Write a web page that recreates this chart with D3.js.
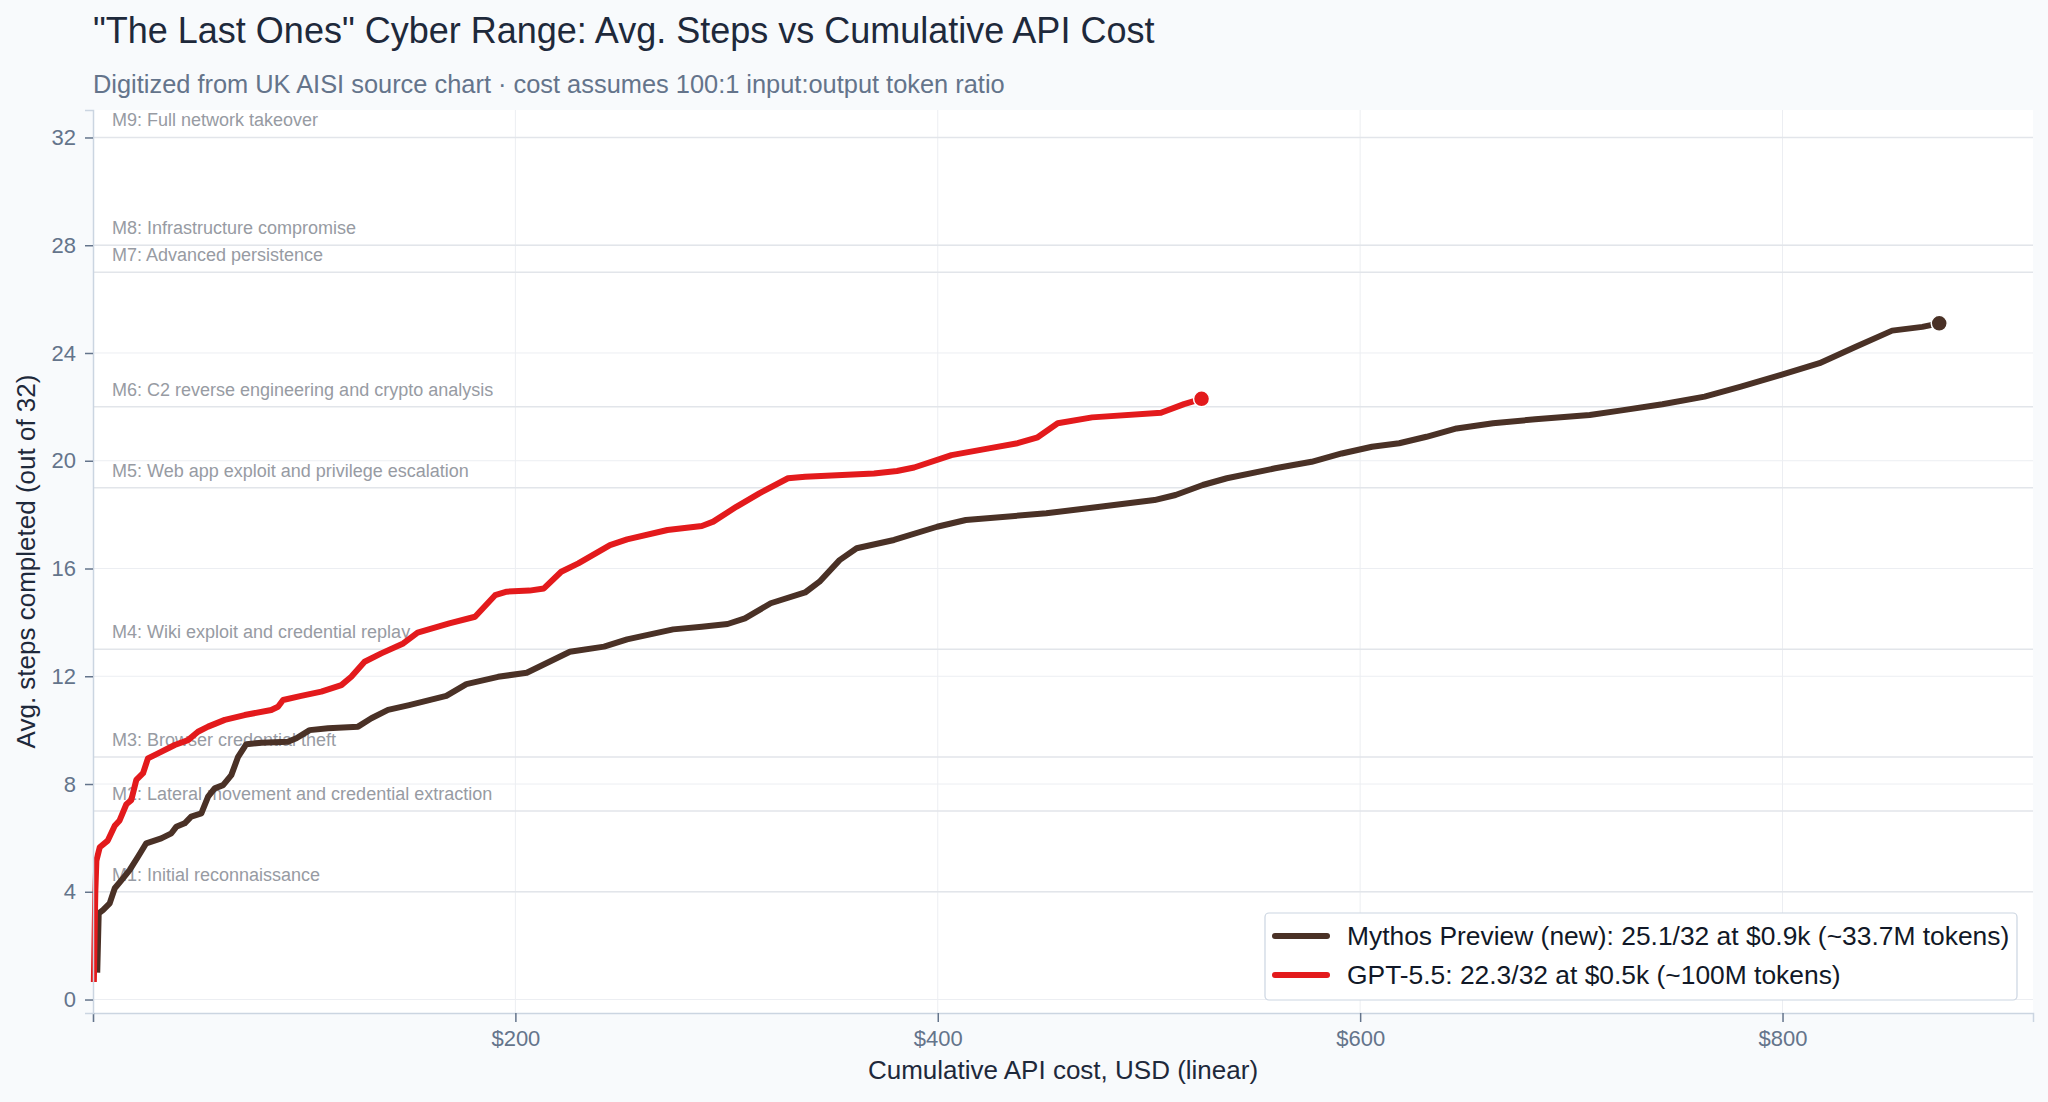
<!DOCTYPE html>
<html>
<head>
<meta charset="utf-8">
<script src="https://cdn.jsdelivr.net/npm/d3@7"></script>
<style>
  html, body { margin: 0; padding: 0; background: #f8fafc; }
  svg { display: block; font-family: "Liberation Sans", Arial, Helvetica, sans-serif; }
</style>
</head>
<body>
<svg id="chart" width="2048" height="1102"></svg>
<script>
const seriesNames = ["Mythos Preview (new): 25.1/32 at $0.9k (~33.7M tokens)", "GPT-5.5: 22.3/32 at $0.5k (~100M tokens)"];
const seriesColors = ["#4a3126", "#e31a1c"];

const mythosCost = [2,2.7,4.7,7.9,10.3,14.2,17.4,21.3,25.2,32.3,37.1,39.4,43.4,46.5,51.3,54.5,57.6,61.6,65.5,68.7,72.6,79.7,92.3,96.3,102.6,111.3,125.5,131.8,139.7,149.7,167.3,176.8,191.8,205.4,225.8,242,252.9,274.7,288.3,300.5,308.7,320.9,337.2,344,353.5,361.6,379.3,399.7,413.3,451.4,476.8,502.6,512.6,525.5,536.9,559.8,577,591.3,605.6,618.5,631.4,645.7,662.9,682.9,708.7,723,743.1,763.1,780.3,798.9,817.5,834.7,851.9,866.2,874.2];
const mythosSteps = [1.0,3.2,3.32,3.57,4.13,4.5,4.81,5.3,5.8,5.98,6.17,6.41,6.54,6.79,6.91,7.53,7.84,7.96,8.33,9.01,9.48,9.53,9.57,9.7,10.0,10.07,10.13,10.44,10.75,10.93,11.27,11.71,11.98,12.13,12.91,13.1,13.37,13.74,13.84,13.94,14.15,14.71,15.11,15.51,16.31,16.75,17.06,17.55,17.8,18.05,18.29,18.54,18.73,19.1,19.35,19.72,19.96,20.27,20.52,20.65,20.89,21.2,21.39,21.54,21.7,21.86,22.1,22.38,22.75,23.18,23.62,24.23,24.83,24.97,25.1];

const gptCost = [0.4,1.1,1.6,3.2,7,10.3,12.6,15.8,18.1,20.5,23.7,26,30.8,38.7,45,49.7,54.5,62.4,71.8,84.4,87.6,90,98.6,108.1,117.6,122.3,128.6,136.5,146.9,153.7,168.7,180.9,190.4,195.9,206.7,213.5,221.7,229.8,244.8,252.9,272,288.3,293.7,304.6,315.5,329.1,337.2,369.8,380.7,388.8,406.5,424.2,437.8,447.3,456.8,473.1,505.7,516.6,524.9];
const gptSteps = [0.65,4.0,5.15,5.65,5.9,6.45,6.65,7.25,7.4,8.15,8.4,8.95,9.14,9.45,9.63,9.94,10.13,10.38,10.56,10.75,10.87,11.12,11.27,11.43,11.67,11.98,12.54,12.85,13.22,13.62,13.96,14.21,15.01,15.14,15.18,15.26,15.88,16.19,16.87,17.08,17.43,17.58,17.74,18.29,18.79,19.35,19.41,19.53,19.62,19.75,20.21,20.46,20.65,20.87,21.39,21.61,21.78,22.1,22.3];

const milestoneSteps = [4, 7, 9, 13, 19, 22, 27, 28, 32];
const milestoneLabels = [
  "M1: Initial reconnaissance",
  "M2: Lateral movement and credential extraction",
  "M3: Browser credential theft",
  "M4: Wiki exploit and credential replay",
  "M5: Web app exploit and privilege escalation",
  "M6: C2 reverse engineering and crypto analysis",
  "M7: Advanced persistence",
  "M8: Infrastructure compromise",
  "M9: Full network takeover"
];

const xTicks = [0, 200, 400, 600, 800];
const yTicks = [0, 4, 8, 12, 16, 20, 24, 28, 32];

const titleText = "\"The Last Ones\" Cyber Range: Avg. Steps vs Cumulative API Cost";
const subtitleText = "Digitized from UK AISI source chart \u00b7 cost assumes 100:1 input:output token ratio";
const xTitle = "Cumulative API cost, USD (linear)";
const yTitle = "Avg. steps completed (out of 32)";

// ---- Layout ----
const W = 2048, H = 1102;
const L = 93, R = 2033, T = 110, B = 1013;

const svg = d3.select("#chart");
svg.append("rect").attr("width", W).attr("height", H).attr("fill", "#f8fafc");

const x = d3.scaleLinear().domain([0, 918.6]).range([L, R]);
const y = d3.scaleLinear().domain([-0.5, 33.02]).range([B, T]);

// plot background
svg.append("rect").attr("x", L).attr("y", T).attr("width", R - L).attr("height", B - T).attr("fill", "#ffffff");

// gridlines
const grid = svg.append("g");
grid.selectAll("line.gx").data(xTicks.filter(d => d > 0)).join("line")
  .attr("x1", d => x(d)).attr("x2", d => x(d)).attr("y1", T).attr("y2", B)
  .attr("stroke", "#eceef2").attr("stroke-width", 1);
grid.selectAll("line.gy").data(yTicks).join("line")
  .attr("x1", L).attr("x2", R).attr("y1", d => y(d)).attr("y2", d => y(d))
  .attr("stroke", "#eceef2").attr("stroke-width", 1);

// milestone lines & labels
const ms = svg.append("g");
ms.selectAll("line").data(milestoneSteps).join("line")
  .attr("x1", L).attr("x2", R).attr("y1", d => y(d)).attr("y2", d => y(d))
  .attr("stroke", "#e2e5ea").attr("stroke-width", 1.5);
ms.selectAll("text").data(milestoneSteps).join("text")
  .attr("x", L + 19).attr("y", d => y(d) - 11)
  .attr("font-size", 18).attr("fill", "#979ba3")
  .text((d, i) => milestoneLabels[i]);

// lines
const series = [
  { cost: mythosCost, steps: mythosSteps, color: seriesColors[0] },
  { cost: gptCost, steps: gptSteps, color: seriesColors[1] }
];
const line = d3.line().x(d => x(d[0])).y(d => y(d[1])).curve(d3.curveLinear);
series.forEach(s => {
  const pts = s.cost.map((c, i) => [c, s.steps[i]]);
  svg.append("path").datum(pts).attr("d", line)
    .attr("fill", "none").attr("stroke", s.color).attr("stroke-width", 6)
    .attr("stroke-linejoin", "round");
  const last = pts[pts.length - 1];
  svg.append("circle").attr("cx", x(last[0])).attr("cy", y(last[1])).attr("r", 8)
    .attr("fill", s.color).attr("stroke", "#ffffff").attr("stroke-width", 1.5);
});

// axes
const xAxis = svg.append("g").attr("transform", `translate(0,${B})`)
  .call(d3.axisBottom(x).tickValues(xTicks).tickSize(9).tickPadding(8)
    .tickFormat(d => d === 0 ? "" : "$" + d));
xAxis.select(".domain").attr("stroke", "#cbd5e1").attr("stroke-width", 1.5);
xAxis.selectAll(".tick line").attr("stroke", "#64748b").attr("stroke-width", 1.5);
xAxis.selectAll(".tick text").attr("font-size", 22).attr("fill", "#64748b")
  .attr("font-family", "\"Liberation Sans\", Arial, sans-serif");

const yAxis = svg.append("g").attr("transform", `translate(${L},0)`)
  .call(d3.axisLeft(y).tickValues(yTicks).tickSize(8).tickPadding(9));
yAxis.select(".domain").attr("stroke", "#cbd5e1").attr("stroke-width", 1.5);
yAxis.selectAll(".tick line").attr("stroke", "#64748b").attr("stroke-width", 1.5);
yAxis.selectAll(".tick text").attr("font-size", 22).attr("fill", "#64748b")
  .attr("font-family", "\"Liberation Sans\", Arial, sans-serif");

// titles
svg.append("text").attr("x", 93).attr("y", 43).attr("font-size", 36).attr("fill", "#1e293b")
  .text(titleText);
svg.append("text").attr("x", 93).attr("y", 93).attr("font-size", 25.4).attr("fill", "#64748b")
  .text(subtitleText);
svg.append("text").attr("x", (L + R) / 2).attr("y", 1079).attr("text-anchor", "middle")
  .attr("font-size", 26).attr("fill", "#1e293b").text(xTitle);
svg.append("text").attr("transform", `translate(35,${(T + B) / 2}) rotate(-90)`)
  .attr("text-anchor", "middle").attr("font-size", 26).attr("fill", "#1e293b").text(yTitle);

// legend
const lg = svg.append("g");
lg.append("rect").attr("x", 1265).attr("y", 913).attr("width", 752).attr("height", 87)
  .attr("rx", 4).attr("fill", "#ffffff").attr("stroke", "#cbd5e1").attr("stroke-width", 1.2);
seriesNames.forEach((name, i) => {
  const cy = 936 + i * 39;
  lg.append("line").attr("x1", 1275).attr("x2", 1327).attr("y1", cy).attr("y2", cy)
    .attr("stroke", seriesColors[i]).attr("stroke-width", 6).attr("stroke-linecap", "round");
  lg.append("text").attr("x", 1347).attr("y", cy).attr("dy", "0.35em")
    .attr("font-size", 26.4).attr("fill", "#111827").text(name);
});
</script>
</body>
</html>
